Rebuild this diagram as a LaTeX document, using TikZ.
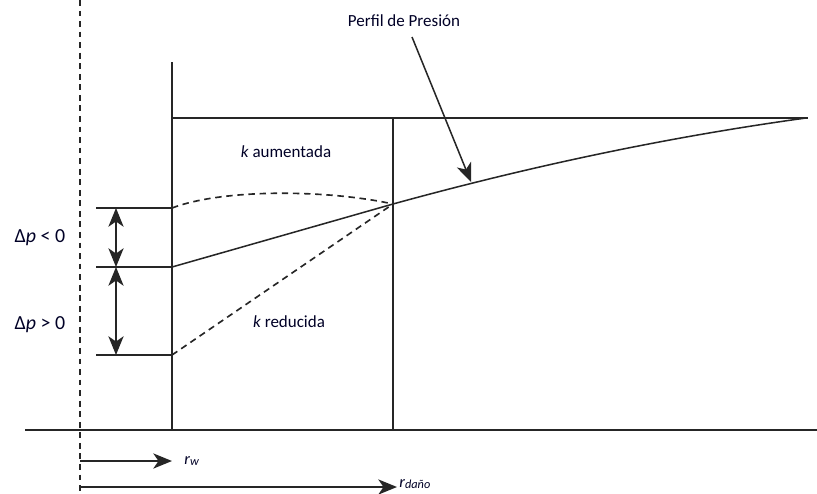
\documentclass[tikz,border=0pt]{standalone}
\usepackage{fontspec}
\setmainfont{Carlito}
\usetikzlibrary{arrows.meta}
\begin{document}
\begin{tikzpicture}[x=0.03cm,y=-0.03cm,
  ln/.style={line width=1.3pt,draw=black!85},
  dsh/.style={line width=1.4pt,draw=black!85,dash pattern=on 5.5pt off 4pt},
  tip/.tip={Stealth[length=16pt,width=13pt,inset=4.5pt,fill=black!85]},
  arr/.style={ln,-tip},
  darr/.style={ln,tip-tip},
  lbl/.style={font=\fontsize{14.5}{17}\selectfont,text=black!85!blue,inner sep=1pt}]
\useasboundingbox (0,0) rectangle (817,493);
% coordinates
\coordinate (d0) at (80,0); \coordinate (d1) at (80,493);
\coordinate (w0) at (172,62); \coordinate (w1) at (172,430);
\coordinate (t0) at (172,118); \coordinate (t1) at (808,118);
\coordinate (m0) at (393,118); \coordinate (m1) at (393,430);
\coordinate (b0) at (25,430); \coordinate (b1) at (817,430);
\coordinate (hA0) at (96,208); \coordinate (hA) at (172,208);
\coordinate (hB0) at (96,267); \coordinate (hB) at (172,267);
\coordinate (hC0) at (96,355); \coordinate (hC) at (172,355);
\coordinate (aA) at (116,208); \coordinate (aB) at (116,267); \coordinate (aC) at (116,355);
\coordinate (P) at (393,204);
\coordinate (E) at (806,118);
\coordinate (rw0) at (80,461); \coordinate (rw1) at (172,461);
\coordinate (rd0) at (80,487); \coordinate (rd1) at (397,487);
\coordinate (pa0) at (412,37); \coordinate (pa) at (471,182);
% frame
\draw[dsh,dash pattern=on 5pt off 4pt] (d0) -- (d1);
\draw[ln] (w0) -- (w1);
\draw[ln] (t0) -- (t1);
\draw[ln] (m0) -- (m1);
\draw[ln] (b0) -- (b1);
\draw[ln] (hA0) -- (hA);
\draw[ln] (hB0) -- (hB);
\draw[ln] (hC0) -- (hC);
\draw[darr] (aA) -- (aB);
\draw[darr] (aB) -- (aC);
% profiles
\draw[ln] (hB) -- (P) .. controls (531,166) and (668,137) .. (E);
\draw[dsh] (hA) .. controls (225,188) and (330,190) .. (P);
\draw[dsh] (hC) -- (P);
% labels
\node[lbl,font=\fontsize{17}{19}\selectfont] (lA) at (40,238) {Δ\textit{p} < 0};
\node[lbl,font=\fontsize{17}{19}\selectfont] (lB) at (40,325) {Δ\textit{p} > 0};
\node[lbl] (ka) at (286,152) {\textit{k} aumentada};
\node[lbl] (kr) at (289,322) {\textit{k} reducida};
\node[lbl] (pp) at (404,21) {Perfil de Presión};
\draw[arr] (pa0) -- (pa);
\draw[arr] (rw0) -- (rw1);
\draw[arr] (rd0) -- (rd1);
\node[lbl,anchor=west,font=\fontsize{14}{16}\selectfont\itshape] (lrw) at (183,461) {r\raisebox{-1pt}{\fontsize{10.5}{12}\selectfont w}};
\node[lbl,anchor=west,font=\fontsize{14}{16}\selectfont\itshape] (lrd) at (398,484) {r\raisebox{-0.5pt}{\fontsize{10.5}{12}\selectfont daño}};
\end{tikzpicture}
\end{document}
